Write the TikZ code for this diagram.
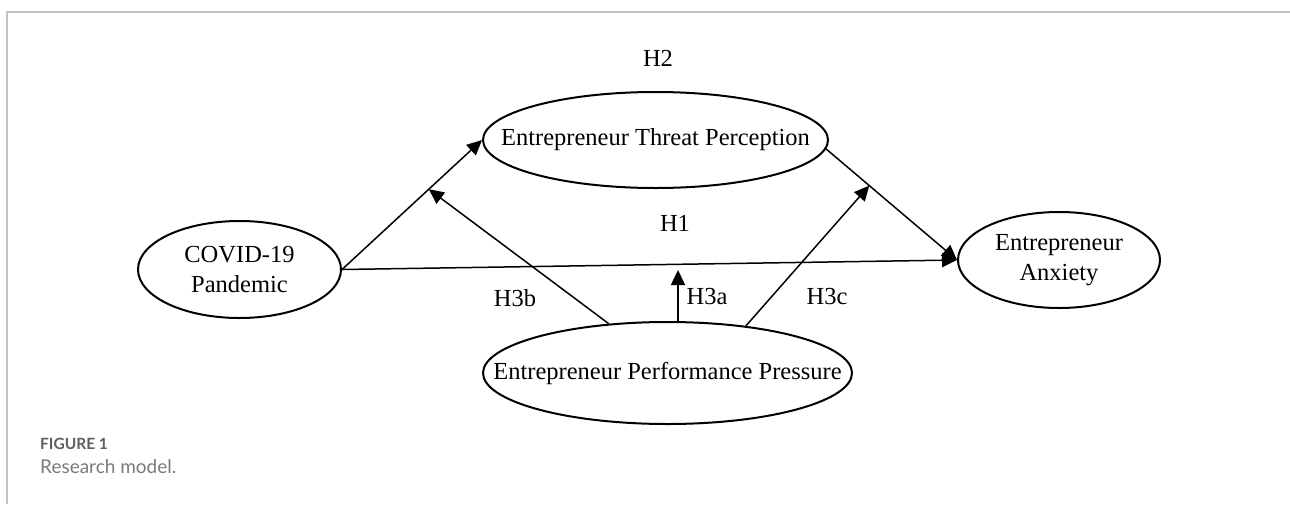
\documentclass[tikz,border=0pt]{standalone}
\usepackage{fontspec}
\setmainfont{Liberation Serif}
\newfontfamily\capfont{Lato}
\usetikzlibrary{arrows.meta,shapes.geometric,calc}
\definecolor{framegray}{HTML}{C4C4C4}
\definecolor{capdark}{HTML}{5F5F5F}
\definecolor{caplight}{HTML}{7A7A7A}
\begin{document}
\begin{tikzpicture}[x=1pt,y=-1pt,
  latent/.style={draw=black,line width=2pt,ellipse,inner sep=0pt},
  intext/.style={font=\fontsize{24.5}{30}\selectfont,align=center,inner sep=0pt},
  hlabel/.style={font=\fontsize{24.5}{30}\selectfont,inner sep=0pt},
  path/.style={draw=black,line width=1.5pt,-{Triangle[length=15pt,width=14pt]}}]
\useasboundingbox (0,0) rectangle (1290,504);
% frame
\draw[framegray,line width=1.6pt] (7,504) -- (7,12) -- (1290,12);
% constructs
\node[latent,minimum width=203pt,minimum height=97pt] (cov) at (239.5,269.5) {};
\node[latent,minimum width=345pt,minimum height=96pt] (thr) at (655.5,140) {};
\node[latent,minimum width=202pt,minimum height=96pt] (anx) at (1059,260) {};
\node[latent,minimum width=369pt,minimum height=102pt] (perf) at (667.5,373) {};
\node[intext] (covt) at (cov.center) {COVID-19\\Pandemic};
\node[intext] (thrt) at (thr.center) {Entrepreneur Threat Perception};
\node[intext] (anxt) at (anx.center) {Entrepreneur\\Anxiety};
\node[intext] (perft) at (perf.center) {Entrepreneur Performance Pressure};
% main paths
\draw[path] (cov.east) -- (thr.west);
\draw[path] (thr.-3) -- (anx.west);
\draw[path] (cov.east) -- (anx.west);
% moderation targets
\coordinate (mb) at ($(cov.east)!0.62!(thr.west)$);
\coordinate (mc) at ($(thr.-3)!0.33!(anx.west)$);
\coordinate (pa) at ($(perf.north)+(10.5,0)$);
\coordinate (ma) at ($(pa)+(0,-51)$);
\draw[path] (perf.140) -- (mb);
\draw[path] (pa) -- (ma);
\draw[path] (perf.31) -- (mc);
% labels
\node[hlabel] (h2) at (658,58) {H2};
\node[hlabel] (h1) at (675,223) {H1};
\node[hlabel] (h3b) at (515,298) {H3b};
\node[hlabel] (h3a) at (707,297) {H3a};
\node[hlabel] (h3c) at (827,297) {H3c};
% caption
\node[anchor=west,inner sep=0pt,text=capdark,font=\capfont\bfseries\fontsize{15.5}{18}\selectfont] (figlab) at (40,444) {FIGURE 1};
\node[anchor=west,inner sep=0pt,text=caplight,font=\capfont\fontsize{19}{22}\selectfont] (figcap) at (40,467) {Research model.};
\end{tikzpicture}
\end{document}
